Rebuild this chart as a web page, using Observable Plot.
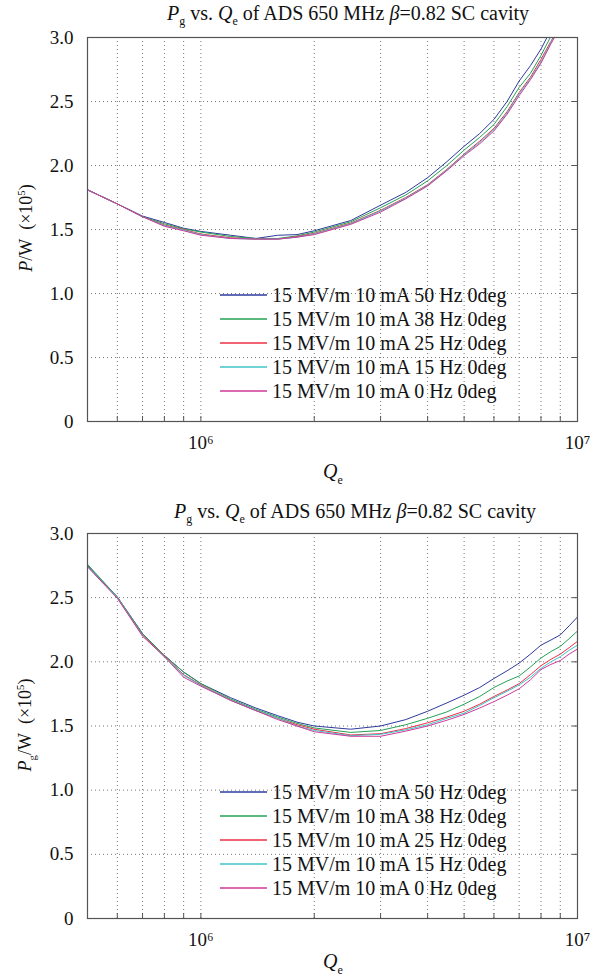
<!DOCTYPE html>
<html>
<head>
<meta charset="utf-8">
<script src="https://cdn.jsdelivr.net/npm/d3@7"></script>
<script src="https://cdn.jsdelivr.net/npm/@observablehq/plot@0.6"></script>
<style>
  html, body { margin: 0; padding: 0; background: #fff; }
  #root { position: relative; width: 605px; height: 979px; font-family: "Liberation Serif", "Times New Roman", serif; color: #111; }
  .panel { position: absolute; left: 0; width: 605px; }
  .title { position: absolute; font-size: 20px; white-space: nowrap; transform: translateX(-50%); }
  .ylab { position: absolute; font-size: 18px; white-space: nowrap; transform: translate(-50%, -50%) rotate(-90deg); }
  .xlab { position: absolute; font-size: 20px; white-space: nowrap; transform: translate(-50%, -50%); }
  .legend { position: absolute; font-size: 20px; font-family: "Liberation Serif", "Times New Roman", serif; }
  .legend .row { position: absolute; left: 0; height: 24px; width: 300px; white-space: nowrap; }
  .legend svg { position: absolute; left: 0; top: 0; }
  .legend .lt { position: absolute; left: 52px; top: 0; line-height: 24px; }
  sub, sup { font-size: 60%; }
  sub { vertical-align: -0.45em; }
</style>
</head>
<body>
<div id="root"></div>
<script>
// ---- data ----
const seriesNames = [
  "15 MV/m 10 mA 50 Hz 0deg",
  "15 MV/m 10 mA 38 Hz 0deg",
  "15 MV/m 10 mA 25 Hz 0deg",
  "15 MV/m 10 mA 15 Hz 0deg",
  "15 MV/m 10 mA 0 Hz 0deg"
];
const seriesColors = ["#2e3a9c", "#23a255", "#ee2f45", "#3fc4c8", "#d0399a"];

const qeTop = [5e5, 6e5, 7e5, 8e5, 9e5, 1e6, 1.2e6, 1.4e6, 1.6e6, 1.8e6, 2e6, 2.5e6, 3e6, 3.5e6, 4e6, 4.5e6, 5e6, 5.5e6, 6e6, 6.5e6, 7e6, 7.5e6, 8e6, 8.5e6, 9e6];
const top50 = [1.81, 1.70, 1.605, 1.555, 1.51, 1.485, 1.455, 1.43, 1.455, 1.46, 1.49, 1.57, 1.69, 1.79, 1.905, 2.03, 2.15, 2.25, 2.36, 2.50, 2.66, 2.78, 2.91, 3.06, 3.2];
const top38 = [1.81, 1.70, 1.60, 1.545, 1.505, 1.48, 1.445, 1.43, 1.43, 1.45, 1.48, 1.56, 1.67, 1.77, 1.88, 2.00, 2.12, 2.22, 2.32, 2.46, 2.61, 2.72, 2.86, 3.01, 3.15];
const top25 = [1.81, 1.70, 1.60, 1.535, 1.50, 1.465, 1.435, 1.425, 1.425, 1.445, 1.47, 1.55, 1.65, 1.75, 1.85, 1.97, 2.09, 2.19, 2.29, 2.42, 2.57, 2.69, 2.83, 2.97, 3.10];
const top15 = [1.81, 1.70, 1.60, 1.53, 1.495, 1.46, 1.43, 1.425, 1.425, 1.44, 1.465, 1.545, 1.645, 1.745, 1.845, 1.965, 2.085, 2.18, 2.28, 2.41, 2.56, 2.68, 2.81, 2.96, 3.09];
const top0  = [1.81, 1.70, 1.60, 1.525, 1.49, 1.455, 1.43, 1.425, 1.425, 1.44, 1.46, 1.54, 1.636, 1.74, 1.84, 1.96, 2.077, 2.17, 2.27, 2.40, 2.546, 2.67, 2.80, 2.95, 3.08];

const qeBottom = [5e5, 6e5, 7e5, 8e5, 9e5, 1e6, 1.2e6, 1.4e6, 1.6e6, 1.8e6, 2e6, 2.5e6, 3e6, 3.5e6, 4e6, 4.5e6, 5e6, 5.5e6, 6e6, 6.5e6, 7e6, 7.5e6, 8e6, 8.5e6, 9e6, 9.5e6, 1e7];
const bot50 = [2.75, 2.505, 2.22, 2.05, 1.92, 1.83, 1.72, 1.64, 1.58, 1.53, 1.50, 1.475, 1.50, 1.55, 1.615, 1.68, 1.74, 1.80, 1.87, 1.93, 1.99, 2.06, 2.13, 2.17, 2.21, 2.28, 2.35];
const bot38 = [2.76, 2.505, 2.22, 2.05, 1.92, 1.83, 1.71, 1.63, 1.57, 1.52, 1.485, 1.45, 1.465, 1.51, 1.56, 1.61, 1.67, 1.73, 1.80, 1.85, 1.89, 1.96, 2.03, 2.08, 2.12, 2.18, 2.24];
const bot25 = [2.745, 2.50, 2.21, 2.045, 1.90, 1.82, 1.70, 1.62, 1.56, 1.51, 1.475, 1.43, 1.44, 1.48, 1.525, 1.57, 1.615, 1.67, 1.73, 1.78, 1.83, 1.90, 1.97, 2.02, 2.06, 2.11, 2.16];
const bot15 = [2.745, 2.50, 2.205, 2.04, 1.895, 1.815, 1.70, 1.62, 1.56, 1.50, 1.465, 1.425, 1.435, 1.47, 1.51, 1.56, 1.60, 1.66, 1.72, 1.77, 1.82, 1.88, 1.95, 2.00, 2.04, 2.09, 2.13];
const bot0  = [2.74, 2.495, 2.20, 2.04, 1.88, 1.81, 1.70, 1.62, 1.55, 1.50, 1.455, 1.42, 1.42, 1.46, 1.50, 1.545, 1.59, 1.64, 1.69, 1.74, 1.79, 1.86, 1.94, 1.98, 2.01, 2.06, 2.10];

const xGridTicks = [6e5, 7e5, 8e5, 9e5, 1e6, 2e6, 3e6, 4e6, 5e6, 6e6, 7e6, 8e6, 9e6];
const xLabelTicks = [1e6, 1e7];
const yTicks = [0, 0.5, 1.0, 1.5, 2.0, 2.5, 3.0];

// ---- drawing ----
const W = 605, ML = 87, MR = 28;
const sup = {"6": "\u2076", "7": "\u2077"};
const serif = "'Liberation Serif', 'Times New Roman', serif";

function makePanel(qe, seriesVals, height, mt, mb) {
  const rows = [];
  seriesVals.forEach((vals, si) => {
    vals.forEach((p, i) => rows.push({q: qe[i], p, name: seriesNames[si]}));
  });
  const plotH = height - mt - mb;
  const plotW = W - ML - MR;
  return Plot.plot({
    width: W, height,
    marginTop: mt, marginBottom: mb, marginLeft: ML, marginRight: MR,
    style: {fontFamily: serif, fontSize: "18px", background: "white", color: "#111", overflow: "visible"},
    x: {type: "log", domain: [5e5, 1e7]},
    y: {domain: [0, 3]},
    color: {domain: seriesNames, range: seriesColors},
    marks: [
      Plot.gridX(xGridTicks, {stroke: "#777", strokeOpacity: 1, strokeWidth: 1, strokeDasharray: "1,3"}),
      Plot.gridY(yTicks.slice(1, -1), {stroke: "#777", strokeOpacity: 1, strokeWidth: 1, strokeDasharray: "1,3"}),
      Plot.tickX(xGridTicks, {x: d => d, insetTop: plotH - 5, stroke: "#555"}),
      Plot.tickY(yTicks, {y: d => d, insetLeft: plotW - 5, stroke: "#555"}),
      Plot.line(rows, {x: "q", y: "p", z: "name", stroke: "name", strokeWidth: 1, clip: true}),
      Plot.frame({stroke: "#555", strokeWidth: 1.2}),
      Plot.axisX(xLabelTicks, {tickSize: 0, tickPadding: 14, label: null, fontSize: 19,
        tickFormat: d => "10" + sup[String(Math.round(Math.log10(d)))]}),
      Plot.axisY(yTicks, {tickSize: 0, tickPadding: 14, label: null, fontSize: 19,
        tickFormat: d => d === 0 ? "0" : d.toFixed(1)})
    ]
  });
}

function addLegend(parent, top, left) {
  const lg = document.createElement("div");
  lg.className = "legend";
  lg.style.top = top + "px";
  lg.style.left = left + "px";
  seriesNames.forEach((n, i) => {
    const r = document.createElement("div");
    r.className = "row";
    r.style.top = (i * 24) + "px";
    r.innerHTML = `<svg width="50" height="24"><line x1="0" x2="47" y1="12" y2="12" stroke="${seriesColors[i]}" stroke-width="1.3"/></svg><div class="lt">${n}</div>`;
    lg.appendChild(r);
  });
  parent.appendChild(lg);
}

function addHTML(parent, cls, html, x, y) {
  const d = document.createElement("div");
  d.className = cls;
  d.style.left = x + "px";
  d.style.top = y + "px";
  d.innerHTML = html;
  parent.appendChild(d);
}

const root = document.getElementById("root");
const titleHTML = `<i>P</i><sub>g</sub> vs. <i>Q</i><sub>e</sub> of ADS 650 MHz <i>β</i>=0.82 SC cavity`;

// top panel
const p1 = document.createElement("div");
p1.className = "panel"; p1.style.top = "0px"; p1.style.height = "490px";
p1.appendChild(makePanel(qeTop, [top50, top38, top25, top15, top0], 490, 37, 69));
root.appendChild(p1);
addHTML(p1, "title", titleHTML, 348, 2);
addHTML(p1, "ylab", `<i>P</i>/W&nbsp;&nbsp;(×10<sup>5</sup>)`, 26, 228);
addHTML(p1, "xlab", `<i>Q</i><sub>e</sub>`, 333, 474);
addLegend(p1, 283, 220);

// bottom panel
const p2 = document.createElement("div");
p2.className = "panel"; p2.style.top = "490px"; p2.style.height = "489px";
p2.appendChild(makePanel(qeBottom, [bot50, bot38, bot25, bot15, bot0], 489, 43, 61));
root.appendChild(p2);
addHTML(p2, "title", titleHTML, 355, 10);
addHTML(p2, "ylab", `<i>P</i><sub>g</sub>/W&nbsp;&nbsp;(×10<sup>5</sup>)`, 26, 235);
addHTML(p2, "xlab", `<i>Q</i><sub>e</sub>`, 333, 474);
addLegend(p2, 290, 220);
</script>
</body>
</html>
